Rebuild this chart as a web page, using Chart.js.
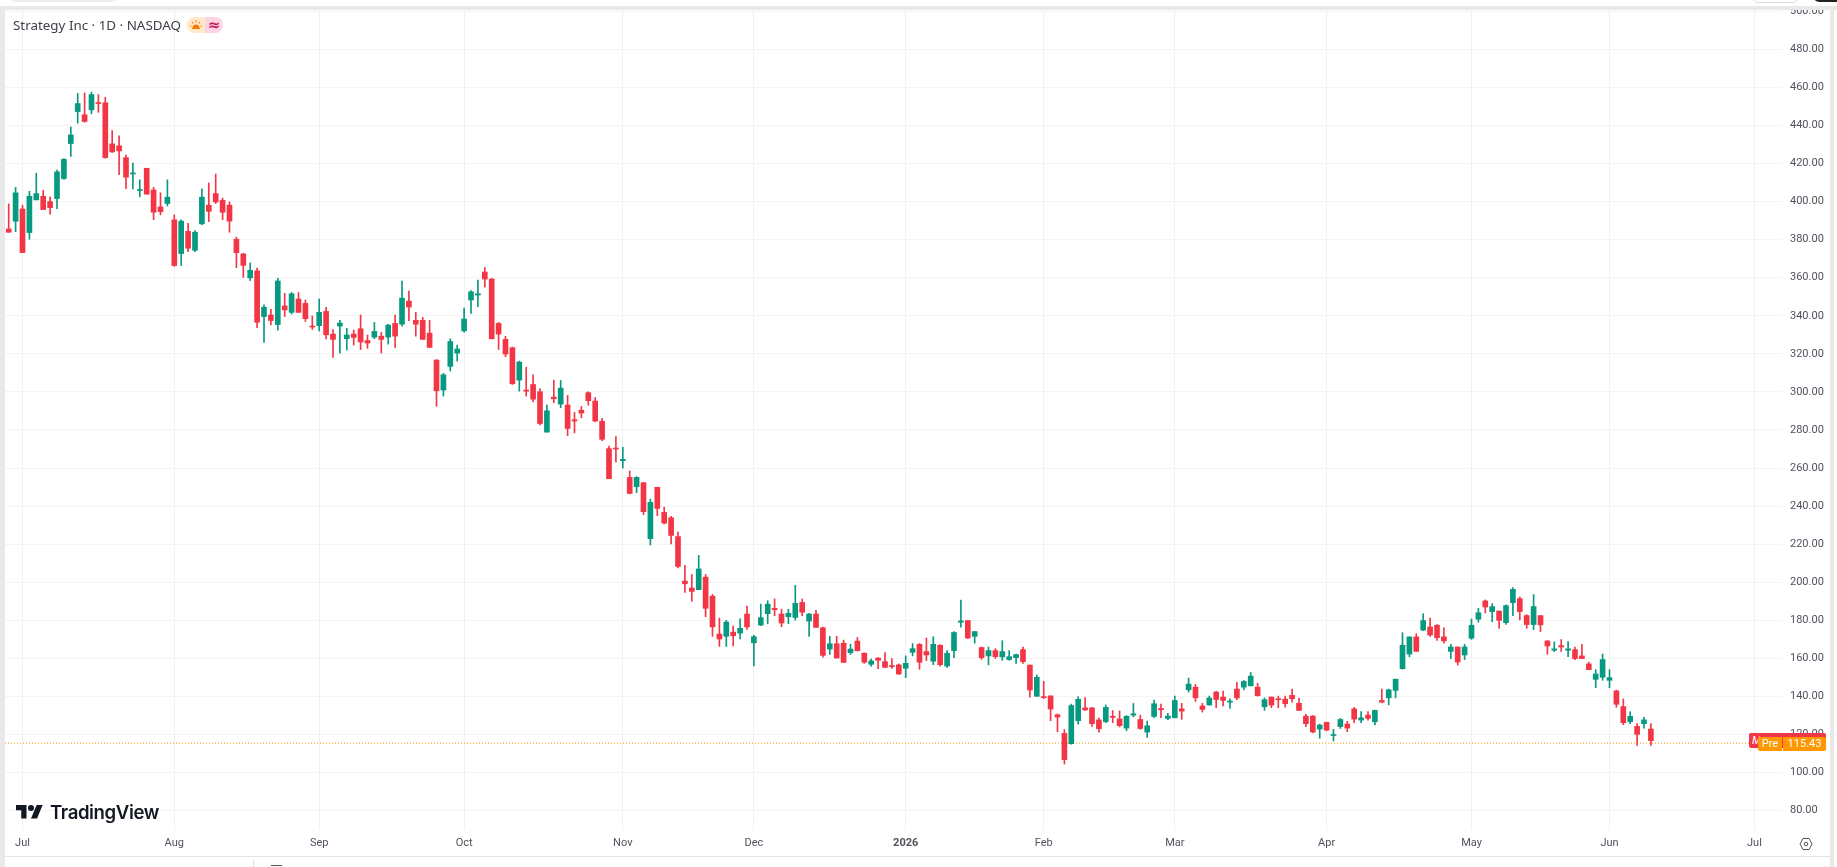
<!DOCTYPE html>
<html lang="en">
<head>
    <meta charset="UTF-8">
    <title>Strategy Inc - 1D - NASDAQ</title>
    <script src="https://cdn.jsdelivr.net/npm/chart.js@4/dist/chart.umd.min.js"></script>
    <style>
        html, body { margin: 0; padding: 0; background: #fff; overflow: hidden; }
        #stage { position: relative; width: 1837px; height: 867px; overflow: hidden; }
        canvas { position: absolute; left: 0; top: 0; }
        .box { position: absolute; }
        .title { left: 13px; top: 16px; font: 13.4px "Noto Sans", sans-serif; color: #3c3f48; white-space: nowrap; }
        .wordmark { left: 50px; top: 801px; font: 600 18.6px Inter, sans-serif; letter-spacing: -0.4px; color: #131722; }
        .tag { color: #fff; font: 11px/14px Roboto, sans-serif; text-align: center; }
    </style>
</head>
<body>
<div id="stage">
    <canvas id="chart" width="1837" height="867"></canvas>

    <!-- window frame -->
    <div class="box" style="left:0;top:6px;width:1837px;height:4px;background:#e9e9e9"></div>
    <div class="box" style="left:0;top:10px;width:5px;height:857px;background:#e9e9e9"></div>
    <div class="box" style="left:1830px;top:10px;width:4px;height:857px;background:#e9e9e9"></div>
    <div class="box" style="left:5px;top:856px;width:1825px;height:1px;background:#e4e4e4"></div>
    <div class="box" style="left:10px;top:-8px;width:107px;height:10px;background:#eee;border-radius:5px"></div>
    <div class="box" style="left:1753px;top:-8px;width:43px;height:9px;border:1px solid #ddd;border-radius:5px"></div>
    <div class="box" style="left:1814px;top:-8px;width:30px;height:10px;background:#222;border-radius:5px"></div>
    <div class="box" style="left:253px;top:860px;width:1px;height:7px;background:#ddd"></div>
    <div class="box" style="left:271px;top:865px;width:11px;height:2px;border-top:1px solid #555"></div>

    <!-- header -->
    <div class="box title">Strategy Inc · 1D · NASDAQ</div>
    <div class="box" style="left:187px;top:17px;width:18px;height:16px;background:#ffe9c9;border-radius:8px 0 0 8px"></div>
    <div class="box" style="left:205px;top:17px;width:18px;height:16px;background:#fbd3e2;border-radius:0 8px 8px 0"></div>
    <svg class="box" style="left:189px;top:18px" width="14" height="14" viewBox="0 0 14 14">
        <path d="M3.5 10a3.5 3.5 0 0 1 7 0z" fill="#f57c00"/>
        <path d="M7 2.5v2M3 4l1.2 1.5M11 4L9.8 5.500M1 8h1.500M11.500 8H13" stroke="#f57c00" stroke-width="1.200"/>
        <path d="M3 10.500h8" stroke="#f57c00" stroke-width="1"/>
    </svg>
    <div class="box" style="left:205px;top:15px;width:18px;text-align:center;font:bold 15px/20px 'DejaVu Sans',sans-serif;color:#c2185b">≈</div>

    <!-- watermark -->
    <svg class="box" style="left:16px;top:802px" width="27" height="21" viewBox="0 0 36 28">
        <path d="M14 22H7V11H0V4h14v18zM28 22h-8l7.500-18h8L28 22z" fill="#131722"/>
        <circle cx="20" cy="8" r="4" fill="#131722"/>
    </svg>
    <div class="box wordmark">TradingView</div>

    <!-- last price tags -->
    <div class="box" style="left:1749px;top:733px;width:77px;height:15px;background:#f23645;border-radius:2px"></div>
    <div class="box tag" style="left:1752px;top:734px;width:8px;font-style:italic;overflow:hidden">M</div>
    <div class="box tag" style="left:1758px;top:737px;width:24px;height:14px;background:#ff9800;border-radius:2px 0 0 2px">Pre</div>
    <div class="box tag" style="left:1783px;top:737px;width:43px;height:14px;background:#ff9800;border-radius:0 2px 2px 0">115.43</div>

    <!-- chart settings -->
    <svg class="box" style="left:1799px;top:837px" width="14" height="14" viewBox="0 0 14 14" fill="none" stroke="#50535e" stroke-width="1">
        <path d="M4 1.500h6L13 7l-3 5.500H4L1 7z"/>
        <circle cx="7" cy="7" r="1.800"/>
    </svg>
</div>

<script>
    // daily sessions, first candle is two sessions before 1 Jul 2025
    var firstSession = -2;

    var opens = [
        385.6,389.7,396.1,383.7,400.9,402.8,400,401.6,412.1,430.5,
        447.3,445.6,448.2,452,451.9,430.3,429.3,423.1,414.5,405.8,
        417.5,406.1,397.2,399,390.4,372.7,384.4,374.4,388.3,398.1,
        404.2,400.7,398.1,380.2,372.5,359.9,363.6,339.6,340.4,335.4,
        345.2,341.8,348.8,346.5,334.6,334.8,342.3,330.4,334.6,328,
        330.4,333.2,327,328.8,329.3,328.8,336,335.6,347.7,337.6,
        337.6,330.9,316.7,301,313.4,320.4,332.1,348.3,350.9,363,
        359.3,336,327.6,323.2,306.2,301,303.9,300.1,278.9,297.3,
        293.6,293.1,285.4,290.4,299.6,295.2,284.6,270.2,270.4,263.9,
        255.1,250.2,252.3,222.9,249.9,236.7,233.9,224,200.6,197,
        196.1,202.7,192.7,172.8,171.6,173.8,173.3,183.3,168.2,177.5,
        183.5,186.3,183.3,181.9,181.5,189.4,179.6,183.3,176.1,164.9,
        167.7,168,163,169.1,162.7,156.9,160.2,158.3,156.2,156.6,
        154.8,163.2,167.4,163.6,158.5,166.9,156,164.1,179,179.9,
        171.6,165.7,161.3,164.1,160.8,159.4,160.4,164.6,156.5,140.1,
        139.9,140.3,130.4,120.6,115.2,127.3,134,134,127.7,126.8,
        129.6,128.2,123.4,130.2,127.9,121.3,129.5,133.7,128.5,128.8,
        133.5,143.5,144.9,135,135.5,142.3,139.7,137,143.9,144.9,
        145.6,144.9,134.6,139.7,138.8,138.6,140.6,136.4,129.7,129.7,
        122.9,126.4,119.5,124.2,125.5,133.5,127.6,130.2,126.7,137.9,
        139.3,143.2,154.6,162.3,171.3,174.9,176.5,177.4,171.3,163.7,
        166,161.8,170.6,180.6,190.2,184.6,184.9,178.8,189.3,191.4,
        182.5,177.8,182.5,169.2,164.3,166.7,164.3,164.6,161.3,157.1,
        149,150.1,148.5,142.9,134.7,126.8,124.3,125.7,122.9
    ];
    var highs = [
        398.8,407.5,398.1,405.4,414.9,406,402.5,416.6,422.6,439.2,
        456.8,457.1,457.5,456.2,454.8,437.3,434.5,424.4,420.2,411.4,
        417.5,407.5,404.6,411.4,393,390.4,388.6,384.8,406.7,409.8,
        414.5,401.8,399.8,381.3,372.8,367.8,365,345.7,343.4,359.7,
        351.8,352.2,352.2,348.3,339.9,348.8,344.4,332.8,337.6,333.4,
        332.5,340.4,329.9,336.5,331.3,335.5,340.4,358.2,353,341.8,
        339.2,337.6,317,309.7,327.9,324.6,344,353.3,358.8,365.4,
        359.7,336.5,329.2,323.6,316.2,313,309,301.8,293.1,306.2,
        306,298.2,289.2,292.4,300.1,297.1,286.1,271.6,276.5,270.9,
        258.5,255.5,252.5,243.7,249.9,239.5,234.6,226.4,208.9,204.1,
        214.1,204.1,193.6,181.2,180,177,180.8,187.5,172.1,188.5,
        190.3,191.2,185.8,185.8,198.4,191.2,183.7,185.2,176.5,171.6,
        171.6,169.6,167.5,171,162.9,159.7,160.4,163,159.9,157.1,
        161.3,167.8,167.8,170.7,171.4,167.2,164.1,174.1,190.7,179.9,
        174.1,166,166,165.1,169.3,164.1,162.3,166,156.5,151.3,
        148,140.3,130.8,122.6,136,139.9,139.4,134.3,128.7,135.5,
        132.6,132.4,129.9,136.3,130.2,127.1,138.1,136,131.1,140.2,
        136.4,149.7,146.3,136.4,140.2,142.8,142.8,138.8,147.4,148.4,
        152.6,146.9,139.3,139.7,140.2,140.2,143.9,139,130.6,130,
        125.5,126.5,122.7,128.5,126.9,134.2,132.1,132.1,132.8,143.9,
        143.9,149.1,173.5,171.3,173,183.5,181.2,177.8,176,167.4,
        166,167.4,180.7,186.3,190.7,188.8,184.9,188.1,197.2,192.3,
        183,193.5,182.5,169.3,168.6,169.9,168.8,166,167.4,158,
        154.1,162.3,154.1,143.4,138.7,132,125.7,129,125.7
    ];
    var lows = [
        383.9,384.2,373.2,380.2,400.9,395.8,393.4,396.3,411.7,423.7,
        441.2,441.7,446.1,446.9,422.8,425.8,414.2,406.8,406.7,402.5,
        403.9,390.5,393,397.7,366,366.4,373.7,373.7,387.9,389.5,
        399,390.5,383.9,365.3,360.2,358.5,333.8,326,335.2,332.5,
        339.6,340.9,341.8,337,332.8,332,327.9,318.1,320.4,322,
        324.6,322.3,322.9,328,320.4,325.1,323.2,334.6,337.4,329.3,
        327.6,323.2,292.5,297.8,311,316.2,331.4,341.3,344.8,355.1,
        327.9,322.3,318.5,303.9,300.4,297.8,294.8,282.6,278.9,294.3,
        291.7,277,278.5,286.4,293.1,284.3,274.4,254.4,263.2,260,
        246.4,247.1,235.5,219.6,235,230.6,220.1,207.6,194.7,190,
        196.1,181.9,171.6,166.3,166.3,166.6,170.3,175.2,156,177.2,
        178.2,182.4,176.6,178.2,180.1,182.4,171.6,176.3,160.7,162.1,
        160.2,157.9,162.1,164,157.4,155.9,154.6,155.2,154.8,151.6,
        149.9,161.3,154.3,158.8,156.7,155.9,155.3,160.4,176.4,170.4,
        168,159.5,156.6,160,159,159,157.4,157.4,139.6,140.1,
        138.9,127.3,121.5,104.5,114.9,125.4,132.7,124.3,121.2,126.2,
        126.2,124,122,129.3,122.7,118.5,128.8,128.8,127.8,128.8,
        128,142.3,137.4,131.8,135.5,134.1,135,133.7,138.3,143.5,
        145.5,140.2,132.7,134.1,134.1,134.4,137,132.7,124.1,120.9,
        118,122,116.6,123.2,121.5,126.2,126.2,127.6,125.1,136.7,
        135.6,139.3,154.3,160.8,163.7,174.6,171.6,169.5,168,159.9,
        156.5,159.4,170,179,183.9,179.3,175.8,177.9,182.5,180.2,
        175.8,175.1,174.1,162.2,163.6,163.6,160.9,159.4,159.9,154.1,
        144.6,148.5,144.6,134.3,125.2,125.7,114.3,123.4,114.3
    ];
    var closes = [
        383.9,404.6,373.2,402.8,404.2,395.8,396.8,415.6,422.2,435,
        451.5,442.1,456.2,451.5,423.1,426.1,426.6,412.8,414.9,406.1,
        403.9,394.4,394.7,402.3,366.4,389.7,375.5,383.9,402.3,394.9,
        399.8,394.4,389.7,373.2,366.5,363.9,336.6,344.5,337.5,358.3,
        343.1,351.6,341.8,338.5,334.1,341.8,330,327.6,336.2,329.9,
        328.6,326.2,325.7,331.8,327.6,335.1,329.3,349.3,344.6,335.6,
        327.6,323.4,300.6,309,326.5,322.5,338.3,352.6,351.6,359.3,
        327.9,330.4,319.9,304.3,315.7,300.4,296.2,283.4,290.1,296.4,
        302,280.8,284.7,288.9,295.4,284.7,275.1,254.4,270,264.6,
        246.7,255.1,237.1,242,238.8,231.1,224.6,208.3,199.2,195.2,
        207,186.3,176.6,170.2,179.1,171.9,175.8,176.6,171.4,181.4,
        188.5,185.6,178.6,183.7,188.9,184.3,183.3,176.3,161.6,167.7,
        160.2,157.9,164.9,164,158,158.7,159,155.3,155.7,151.8,
        157.4,165.1,158,161.8,167.4,156.7,162.7,173.6,179.7,170.7,
        174.1,160.4,164.1,160.9,163.6,160.9,162,158.3,143.4,150.1,
        139.4,133.4,129.2,106.8,135.2,138.5,132.9,125.7,123.1,134.3,
        129,124.7,129.6,130.9,123.2,124.6,136.2,133,129.7,137.9,
        132.3,146.5,139.3,133.2,139.2,138.4,137.9,137.6,139.2,147.9,
        150.7,140.4,138.3,135.5,138.3,136.2,138.8,132.7,125.7,121.3,
        125,122.3,119.9,127.9,123.4,128.1,128.8,128.5,132.7,137,
        143.5,149.1,166.9,171.3,163.7,179.9,172.3,170.9,169.2,166,
        158.1,166,177.4,184,187,187.2,180,187.7,196.3,184.6,
        177.8,187.2,177.6,166.5,165,166,165,159.9,159.9,154.1,
        151.8,159.4,149.9,135.9,126.2,129.6,120.1,127.7,116.8
    ];

    var lastPrice = 115.43;
    var priceTicks = [80,100,120,140,160,180,200,220,240,260,280,300,320,340,360,380,400,420,440,460,480,500];
    // session number of the first trading day of each month
    var monthTicks = [0,22,43,64,87,106,128,148,167,189,210,230,251];
    var monthLabels = ['Jul','Aug','Sep','Oct','Nov','Dec','2026','Feb','Mar','Apr','May','Jun','Jul'];

    var UP = '#089981', DOWN = '#f23645';
    var xMin = -2.536, xMax = 255;
    var yMin = 69.85, yMax = 500.65;

    function candleColor(ctx) {
        return closes[ctx.dataIndex] >= opens[ctx.dataIndex] ? UP : DOWN;
    }

    var bodies = opens.map(function (o, k) {
        return {x: firstSession + k, y: [o, closes[k]]};
    });
    var wicks = opens.map(function (o, k) {
        return {x: firstSession + k, y: [lows[k], highs[k]]};
    });

    new Chart(document.getElementById('chart').getContext('2d'), {
        data: {
            datasets: [
                {
                    type: 'bar',
                    label: 'body',
                    data: bodies,
                    grouped: false,
                    barThickness: 5,
                    minBarLength: 1,
                    backgroundColor: candleColor
                },
                {
                    type: 'bar',
                    label: 'wick',
                    data: wicks,
                    grouped: false,
                    barThickness: 1,
                    backgroundColor: candleColor
                },
                {
                    type: 'line',
                    label: 'last',
                    data: [{x: xMin, y: lastPrice}, {x: xMax, y: lastPrice}],
                    borderColor: '#ff9800',
                    borderWidth: 1,
                    borderDash: [1, 2],
                    pointRadius: 0
                }
            ]
        },
        options: {
            responsive: false,
            animation: false,
            layout: {padding: {left: 5, top: 10, right: 7, bottom: 11}},
            plugins: {legend: {display: false}, tooltip: {enabled: false}},
            scales: {
                x: {
                    type: 'linear',
                    min: xMin,
                    max: xMax,
                    offset: false,
                    afterBuildTicks: function (scale) {
                        scale.ticks = monthTicks.map(function (v) { return {value: v}; });
                    },
                    afterFit: function (scale) {
                        scale.height = 26;
                        scale.paddingLeft = 0;
                        scale.paddingRight = 0;
                    },
                    grid: {color: '#f1f1f1', offset: false, drawTicks: false},
                    border: {display: false},
                    ticks: {
                        autoSkip: false,
                        maxRotation: 0,
                        padding: 7,
                        color: '#50535e',
                        font: function (ctx) {
                            var bold = ctx.tick && ctx.tick.value === 128;
                            return {family: 'Roboto', size: 11, weight: bold ? 'bold' : 'normal'};
                        },
                        callback: function (v) { return monthLabels[monthTicks.indexOf(v)]; }
                    }
                },
                y: {
                    position: 'right',
                    min: yMin,
                    max: yMax,
                    afterBuildTicks: function (scale) {
                        scale.ticks = priceTicks.map(function (v) { return {value: v}; });
                    },
                    // the 500 label sits against the top edge, keep it from pushing the plot down
                    afterFit: function (scale) {
                        scale.width = 48;
                        scale.paddingTop = 0;
                        scale.paddingBottom = 0;
                    },
                    grid: {color: '#f4f4f4', drawTicks: false},
                    border: {display: false},
                    ticks: {
                        padding: 8,
                        color: '#50535e',
                        font: {family: 'Roboto', size: 11},
                        callback: function (v) { return v.toFixed(2); }
                    }
                }
            }
        }
    });
</script>
</body>
</html>
